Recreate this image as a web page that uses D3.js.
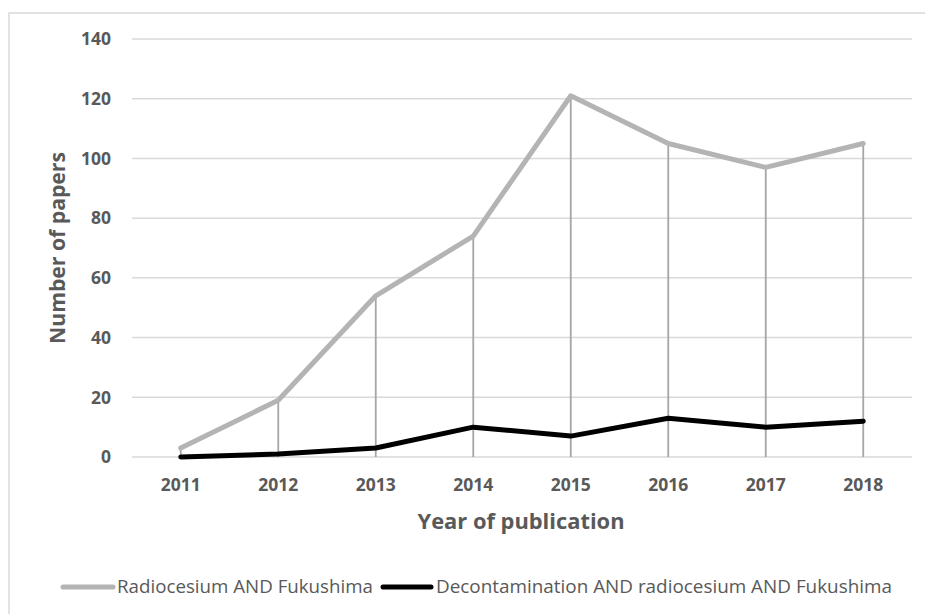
<!DOCTYPE html>
<html>
<head>
<meta charset="utf-8">
<script src="https://cdn.jsdelivr.net/npm/d3@7"></script>
<style>
  body { margin: 0; background: #fff; }
  text { font-family: "Open Sans", "Liberation Sans", sans-serif; }
</style>
</head>
<body>
<div id="chart"></div>
<script>
const years = ["2011", "2012", "2013", "2014", "2015", "2016", "2017", "2018"];
const radiocesium = [3, 19, 54, 74, 121, 105, 97, 105];
const decontamination = [0, 1, 3, 10, 7, 13, 10, 12];
const yTicks = [0, 20, 40, 60, 80, 100, 120, 140];
const seriesNames = ["Radiocesium AND Fukushima", "Decontamination AND radiocesium AND Fukushima"];
const seriesColors = ["#b4b4b4", "#000000"];

const width = 925;
const height = 614;
const margin = { top: 39, right: 13, bottom: 157, left: 132 };

const svg = d3.select("#chart").append("svg")
    .attr("width", width)
    .attr("height", height);

// outer chart border
svg.append("rect")
    .attr("x", 9).attr("y", 13)
    .attr("width", 920).attr("height", 620)
    .attr("fill", "none")
    .attr("stroke", "#d9d9d9")
    .attr("stroke-width", 1.5);

const x = d3.scaleBand()
    .domain(years)
    .range([margin.left, width - margin.right]);

const y = d3.scaleLinear()
    .domain([0, 140])
    .range([height - margin.bottom, margin.top]);

// horizontal gridlines
svg.append("g")
    .selectAll("line")
    .data(yTicks)
    .enter()
    .append("line")
    .attr("x1", margin.left)
    .attr("x2", width - margin.right)
    .attr("y1", d => y(d))
    .attr("y2", d => y(d))
    .attr("stroke", "#d9d9d9")
    .attr("stroke-width", 1.5);

// y tick labels
svg.append("g")
    .selectAll("text")
    .data(yTicks)
    .enter()
    .append("text")
    .attr("x", 111)
    .attr("y", d => y(d))
    .attr("dy", "0.36em")
    .attr("text-anchor", "end")
    .attr("font-size", 17.5)
    .attr("font-weight", "bold")
    .attr("fill", "#595959")
    .text(d => d);

// x tick labels
svg.append("g")
    .selectAll("text")
    .data(years)
    .enter()
    .append("text")
    .attr("x", d => x(d) + x.bandwidth() / 2)
    .attr("y", 485)
    .attr("dy", "0.36em")
    .attr("text-anchor", "middle")
    .attr("font-size", 17.5)
    .attr("font-weight", "bold")
    .attr("fill", "#595959")
    .text(d => d);

// drop lines
svg.append("g")
    .selectAll("line")
    .data(years)
    .enter()
    .append("line")
    .attr("x1", d => x(d) + x.bandwidth() / 2)
    .attr("x2", d => x(d) + x.bandwidth() / 2)
    .attr("y1", (d, i) => y(radiocesium[i]))
    .attr("y2", y(0))
    .attr("stroke", "#a6a6a6")
    .attr("stroke-width", 1.8);

const line = d3.line()
    .x((d, i) => x(years[i]) + x.bandwidth() / 2)
    .y(d => y(d));

[radiocesium, decontamination].forEach((series, k) => {
    svg.append("path")
        .datum(series)
        .attr("d", line)
        .attr("fill", "none")
        .attr("stroke", seriesColors[k])
        .attr("stroke-width", 5)
        .attr("stroke-linejoin", "round")
        .attr("stroke-linecap", "round");
});

// axis titles
svg.append("text")
    .attr("transform", "translate(57," + 248 + ") rotate(-90)")
    .attr("dy", "0.36em")
    .attr("text-anchor", "middle")
    .attr("font-size", 22)
    .attr("font-weight", "bold")
    .attr("fill", "#595959")
    .attr("textLength", 192)
    .attr("lengthAdjust", "spacingAndGlyphs")
    .text("Number of papers");

svg.append("text")
    .attr("x", 521)
    .attr("y", 521)
    .attr("dy", "0.36em")
    .attr("text-anchor", "middle")
    .attr("font-size", 22)
    .attr("font-weight", "bold")
    .attr("fill", "#595959")
    .attr("textLength", 207)
    .attr("lengthAdjust", "spacingAndGlyphs")
    .text("Year of publication");

// legend
const legendItems = [
    { x0: 63, x1: 113, tx: 117, tw: 256 },
    { x0: 383, x1: 431, tx: 436, tw: 456 }
];
legendItems.forEach((item, k) => {
    svg.append("line")
        .attr("x1", item.x0).attr("x2", item.x1)
        .attr("y1", 587).attr("y2", 587)
        .attr("stroke", seriesColors[k])
        .attr("stroke-width", 5)
        .attr("stroke-linecap", "round");
    svg.append("text")
        .attr("x", item.tx)
        .attr("y", 587)
        .attr("dy", "0.36em")
        .attr("font-size", 18)
        .attr("fill", "#595959")
        .attr("textLength", item.tw)
        .attr("lengthAdjust", "spacingAndGlyphs")
        .text(seriesNames[k]);
});
</script>
</body>
</html>
